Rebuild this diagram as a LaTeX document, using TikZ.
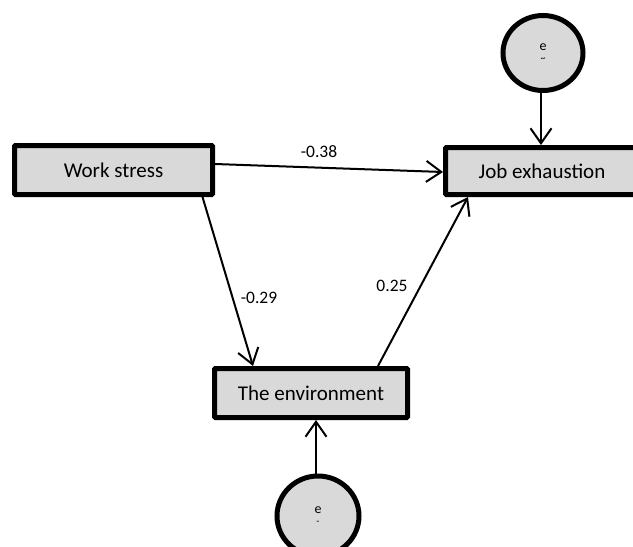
\documentclass[tikz,border=0pt]{standalone}
\usepackage{fontspec}
\setmainfont{Carlito}
\usetikzlibrary{arrows.meta,shapes.geometric}
\definecolor{boxgray}{HTML}{D9D9D9}
\tikzset{
  varbox/.style={draw=black,fill=boxgray,line width=5pt,rounded corners=1pt,
    inner sep=0pt,font=\fontsize{21}{25}\selectfont},
  errcirc/.style={draw=black,fill=boxgray,line width=5pt,ellipse,inner sep=0pt,
    align=center,font=\fontsize{14}{13}\selectfont},
  path/.style={line width=2pt,-{Straight Barb[length=15pt,width=21pt,line width=2pt]}},
  coef/.style={font=\fontsize{17.5}{20}\selectfont,inner sep=0pt}
}
\begin{document}
\begin{tikzpicture}[x=1pt,y=-1pt]
\useasboundingbox (0,0) rectangle (633,547);
\node[varbox,minimum width=198pt,minimum height=49pt] (ws) at (113.5,170) {Work stress};
\node[varbox,minimum width=193pt,minimum height=47pt] (je) at (542,171) {Job exhaustion};
\node[varbox,minimum width=193pt,minimum height=49pt] (env) at (311,393) {The environment};
\node[errcirc,minimum width=80pt,minimum height=75pt] (e2) at (543,53) {e\\[-2pt]{\fontsize{10}{10}\selectfont\textasciitilde}};
\node[errcirc,minimum width=82pt,minimum height=80pt] (e1) at (318,516) {e\\[-2pt]{\fontsize{10}{10}\selectfont -}};
\draw[path] ([yshift=6pt]ws.east) -- ([yshift=-1pt]je.west);
\draw[path] ([xshift=89pt]ws.south) -- ([xshift=-58pt]env.north);
\draw[path] ([xshift=67pt]env.north) -- ([xshift=-74pt]je.south);
\draw[path] ([xshift=-2pt]e2.south) -- ([xshift=-2pt]e2.south |- je.north);
\draw[path] ([xshift=-2pt]e1.north) -- ([xshift=-2pt]e1.north |- env.south);
\node[coef] (c1) at (319,152) {-0.38};
\node[coef] (c2) at (259,298) {-0.29};
\node[coef] (c3) at (392,286) {0.25};
\end{tikzpicture}
\end{document}
